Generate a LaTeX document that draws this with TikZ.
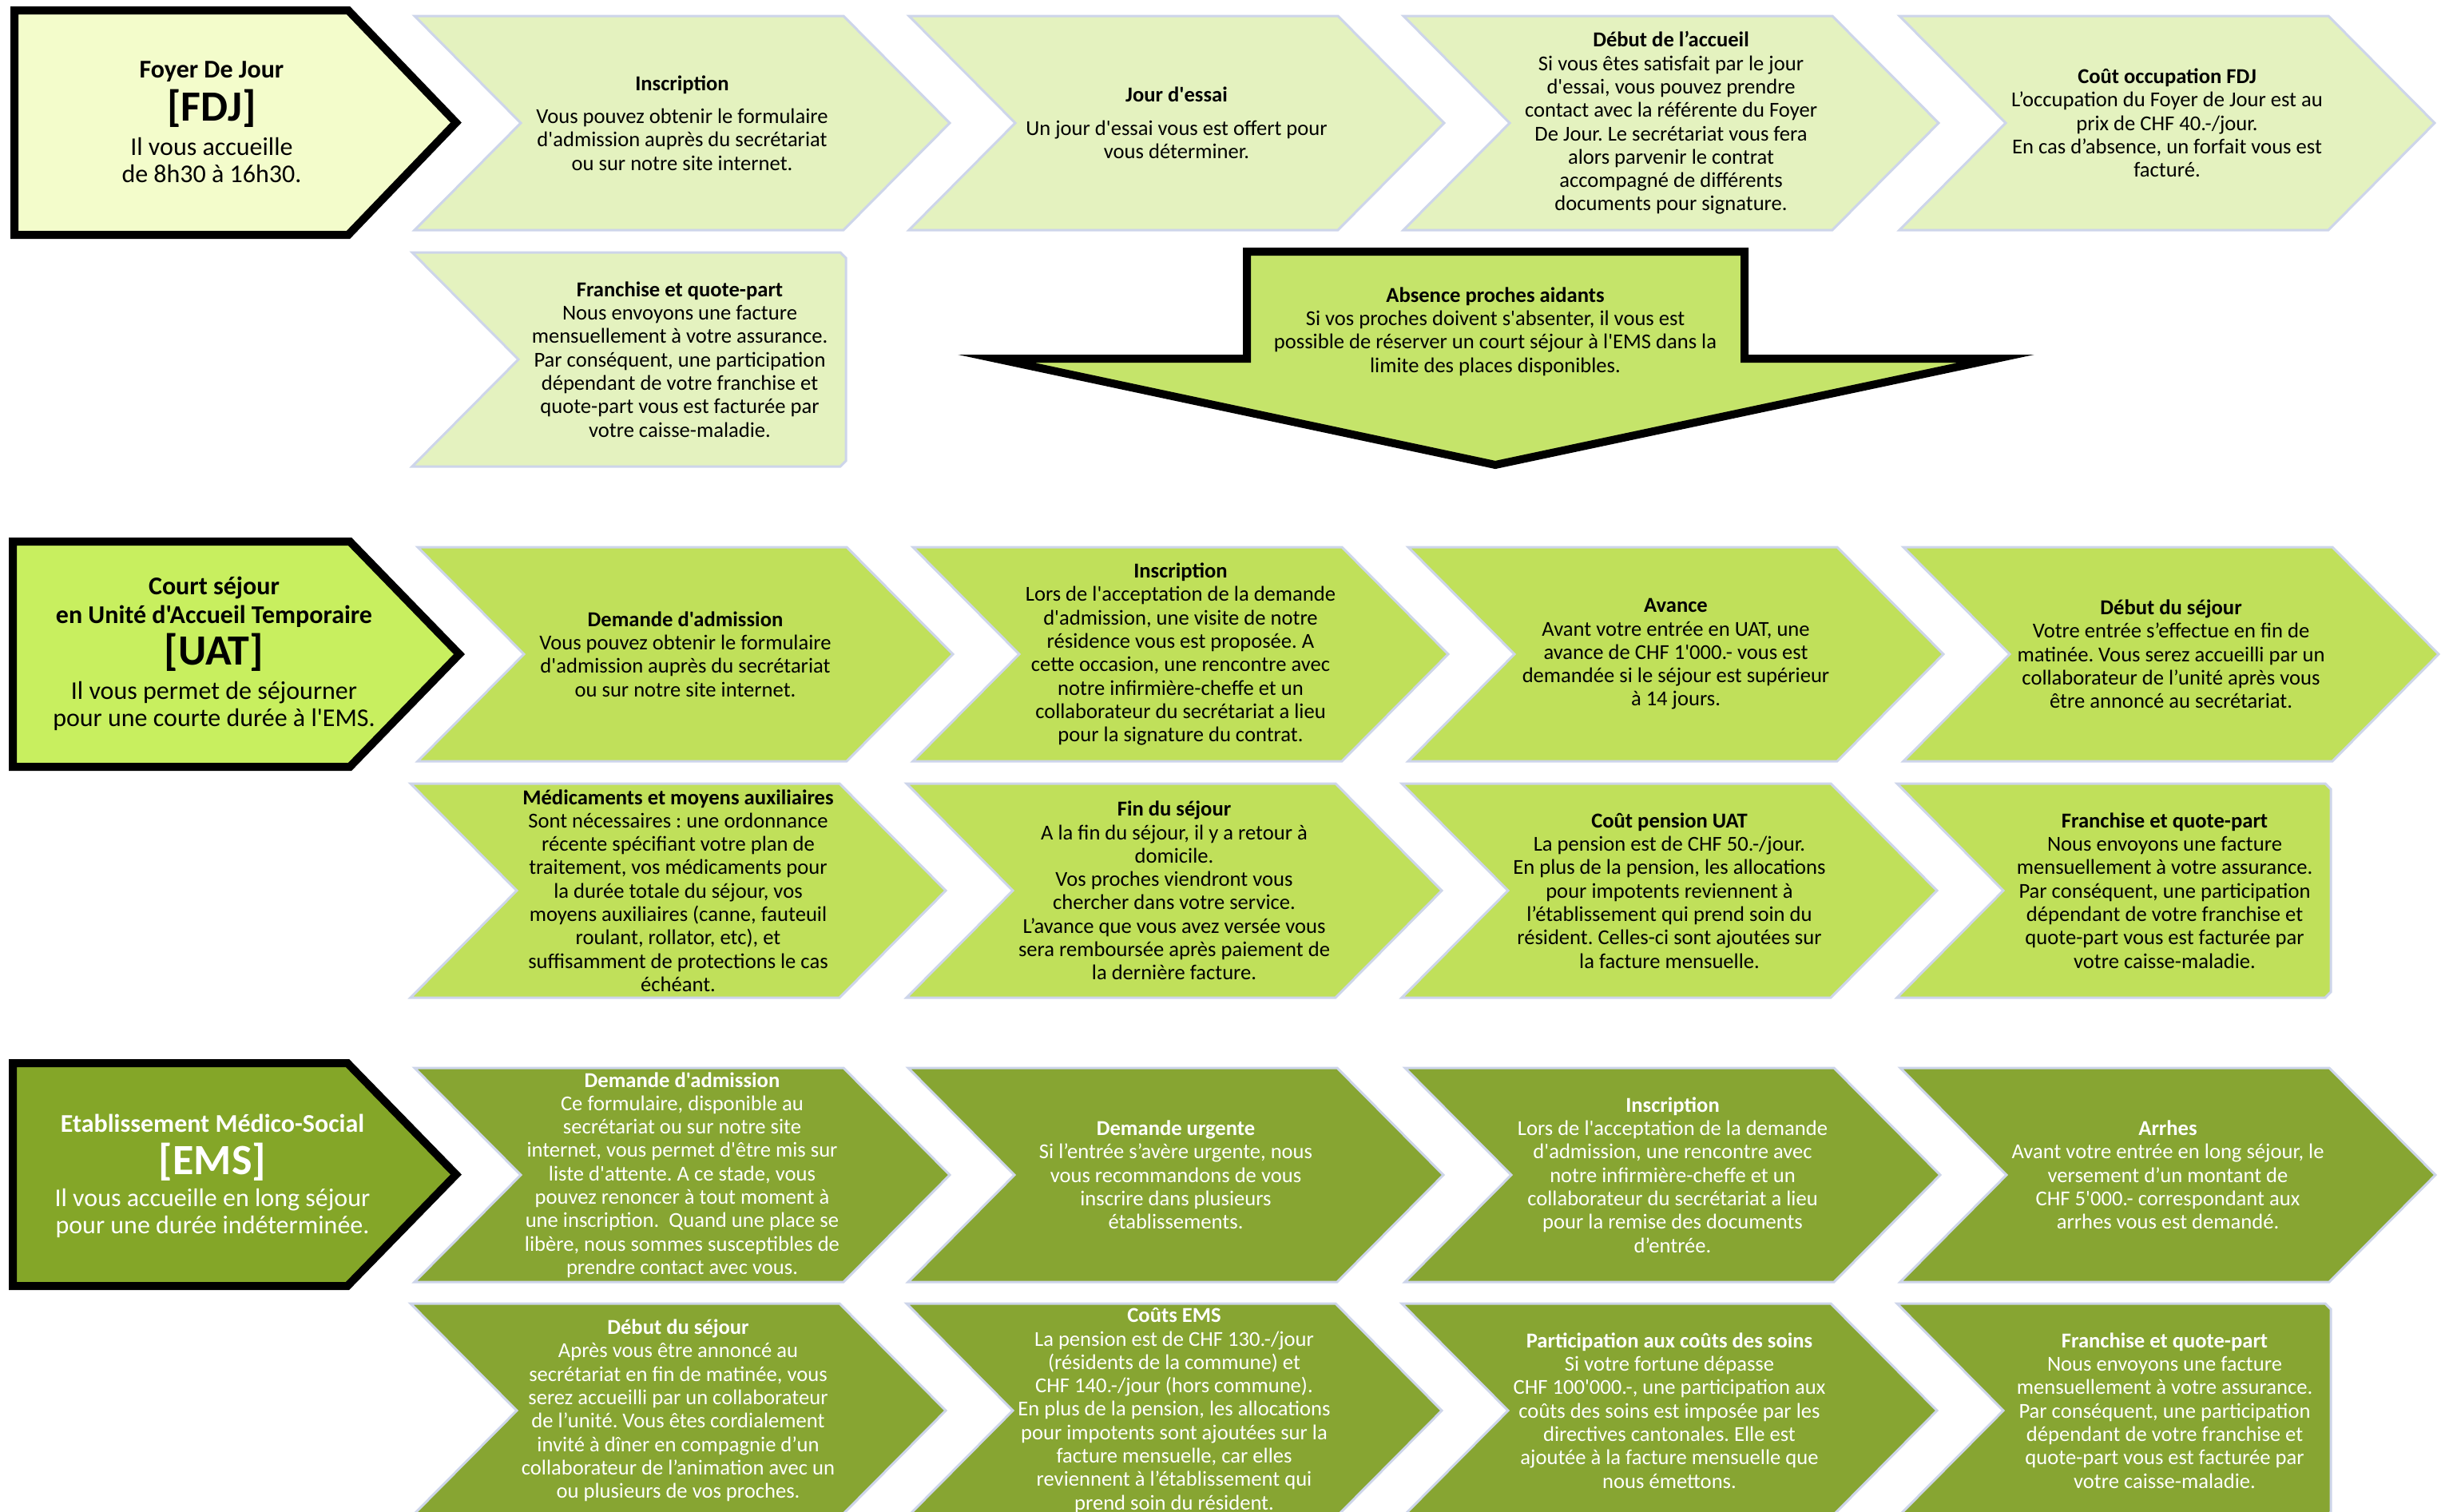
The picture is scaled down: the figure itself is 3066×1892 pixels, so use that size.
\documentclass[tikz,border=0pt]{standalone}
\usepackage{fontspec}
\setmainfont{Carlito}
\newfontfamily\carl{Carlito}
\frenchspacing
\definecolor{edgec}{HTML}{CDD5EA}
\definecolor{rowonec}{HTML}{E4F2BF}
\definecolor{fdjc}{HTML}{F3FCCB}
\definecolor{rowtwoc}{HTML}{C0E05A}
\definecolor{uatc}{HTML}{C8EF5F}
\definecolor{rowthreec}{HTML}{87A532}
\definecolor{emsc}{HTML}{84A628}
\definecolor{arrc}{HTML}{C5E46A}
\tikzset{
  chevbox/.style={draw=edgec, line width=1.5pt, line join=miter},
  hdrbox/.style={draw=black, line width=5pt, line join=miter, miter limit=25},
  txt/.style={font=\carl\frenchspacing\fontsize{13.3}{14.65}\selectfont, align=center, inner sep=0pt},
  wtxt/.style={txt, text=white},
  htitle/.style={font=\carl\bfseries\fontsize{16}{18}\selectfont, align=center, inner sep=0pt},
  habbr/.style={font=\carl\bfseries\fontsize{27}{30}\selectfont, inner sep=0pt},
  hbody/.style={font=\carl\fontsize{16}{17}\selectfont, align=center, inner sep=0pt},
}
% #1 x0, #2 yc, #3 fill, #4 name of text anchor
\newcommand\chevshape[4]{%
  \path[chevbox,fill=#3] (#1,#2-134) -- (#1+537,#2-134) -- (#1+670,#2) -- (#1+537,#2+134)
     -- (#1,#2+134) -- (#1+133,#2) -- cycle;
  \coordinate (#4) at (#1+335,#2);}
\newcommand\flatshape[4]{%
  \path[chevbox,fill=#3] (#1,#2-134) -- (#1+536,#2-134) -- (#1+543,#2-127) -- (#1+543,#2+127)
     -- (#1+536,#2+134) -- (#1,#2+134) -- (#1+133,#2) -- cycle;
  \coordinate (#4) at (#1+335,#2);}
% #1 left x, #2 top y, #3 bottom y, #4 flat end x, #5 vertex x, #6 fill
\newcommand\hdrshape[6]{%
  \path[hdrbox,fill=#6] (#1,#2) -- (#4,#2) -- (#5,{(#2+#3)/2}) -- (#4,#3) -- (#1,#3) -- cycle;}
\begin{document}
\begin{tikzpicture}[x=0.5pt,y=-0.5pt]
\useasboundingbox (0,0) rectangle (3066,1892);
\clip (0,0) rectangle (3066,1892);
\fill[white] (0,0) rectangle (3066,1892);

% ---------------- Row 1 : FDJ ----------------
\hdrshape{18}{13}{294}{436}{571}{fdjc}
\node[htitle] (fdjt) at (265,90) {Foyer De Jour};
\node[habbr] (fdja) at (265,136) {[FDJ]};
\node[hbody] (fdjb) at (265,201) {Il vous accueille\\de 8h30 à 16h30.};

\chevshape{519}{154}{rowonec}{ca1}
\chevshape{1138}{154}{rowonec}{ca2}
\chevshape{1757}{154}{rowonec}{ca3}
\chevshape{2378}{154}{rowonec}{ca4}
\flatshape{516}{450}{rowonec}{cb1}

\node[txt] (ta1) at (ca1) {\textbf{Inscription}\\[6pt]Vous pouvez obtenir le formulaire\\d'admission auprès du secrétariat\\ou sur notre site internet.};
\node[txt] (ta2) at (ca2) {\textbf{Jour d'essai}\\[6pt]Un jour d'essai vous est offert pour\\vous déterminer.};
\node[txt] (ta3) at (ca3) {\textbf{Début de l’accueil}\\Si vous êtes satisfait par le jour\\d'essai, vous pouvez prendre\\contact avec la référente du Foyer\\De Jour. Le secrétariat vous fera\\alors parvenir le contrat\\accompagné de différents\\documents pour signature.};
\node[txt] (ta4) at (ca4) {\textbf{Coût occupation FDJ}\\L’occupation du Foyer de Jour est au\\prix de CHF 40.-/jour.\\En cas d’absence, un forfait vous est\\facturé.};
\node[txt] (tb1) at (cb1) {\textbf{Franchise et quote-part}\\Nous envoyons une facture\\mensuellement à votre assurance.\\Par conséquent, une participation\\dépendant de votre franchise et\\quote-part vous est facturée par\\votre caisse-maladie.};

% Absence arrow
\path[hdrbox,fill=arrc] (1561,315) -- (2184,315) -- (2184,449) -- (2499,449) -- (1872,582)
   -- (1247,449) -- (1561,449) -- cycle;
\node[txt] (abs) at (1872,415) {\textbf{Absence proches aidants}\\Si vos proches doivent s'absenter, il vous est\\possible de réserver un court séjour à l'EMS dans la\\limite des places disponibles.};

% ---------------- Row 2 : UAT ----------------
\hdrshape{16}{678}{960}{438}{575}{uatc}
\node[htitle] (uatt) at (268,754) {Court séjour\\en Unité d'Accueil Temporaire};
\node[habbr] (uata) at (268,817) {[UAT]};
\node[hbody] (uatb) at (268,884) {Il vous permet de séjourner\\pour une courte durée à l'EMS.};

\chevshape{523}{819}{rowtwoc}{cc1}
\chevshape{1143}{819}{rowtwoc}{cc2}
\chevshape{1763}{819}{rowtwoc}{cc3}
\chevshape{2383}{819}{rowtwoc}{cc4}
\chevshape{514}{1115}{rowtwoc}{cd1}
\chevshape{1135}{1115}{rowtwoc}{cd2}
\chevshape{1755}{1115}{rowtwoc}{cd3}
\flatshape{2375}{1115}{rowtwoc}{cd4}

\node[txt] (tc1) at (cc1) {\textbf{Demande d'admission}\\Vous pouvez obtenir le formulaire\\d'admission auprès du secrétariat\\ou sur notre site internet.};
\node[txt] (tc2) at (cc2) {\textbf{Inscription}\\Lors de l'acceptation de la demande\\d'admission, une visite de notre\\résidence vous est proposée. A\\cette occasion, une rencontre avec\\notre infirmière-cheffe et un\\collaborateur du secrétariat a lieu\\pour la signature du contrat.};
\node[txt] (tc3) at (cc3) {\textbf{Avance}\\Avant votre entrée en UAT, une\\avance de CHF 1'000.- vous est\\demandée si le séjour est supérieur\\à 14 jours.};
\node[txt] (tc4) at (cc4) {\textbf{Début du séjour}\\Votre entrée s’effectue en fin de\\matinée. Vous serez accueilli par un\\collaborateur de l’unité après vous\\être annoncé au secrétariat.};
\node[txt] (td1) at (cd1) {\textbf{Médicaments et moyens auxiliaires}\\Sont nécessaires : une ordonnance\\récente spécifiant votre plan de\\traitement, vos médicaments pour\\la durée totale du séjour, vos\\moyens auxiliaires (canne, fauteuil\\roulant, rollator, etc), et\\suffisamment de protections le cas\\échéant.};
\node[txt] (td2) at (cd2) {\textbf{Fin du séjour}\\A la fin du séjour, il y a retour à\\domicile.\\Vos proches viendront vous\\chercher dans votre service.\\L’avance que vous avez versée vous\\sera remboursée après paiement de\\la dernière facture.};
\node[txt] (td3) at (cd3) {\textbf{Coût pension UAT}\\La pension est de CHF 50.-/jour.\\En plus de la pension, les allocations\\pour impotents reviennent à\\l’établissement qui prend soin du\\résident. Celles-ci sont ajoutées sur\\la facture mensuelle.};
\node[txt] (td4) at (cd4) {\textbf{Franchise et quote-part}\\Nous envoyons une facture\\mensuellement à votre assurance.\\Par conséquent, une participation\\dépendant de votre franchise et\\quote-part vous est facturée par\\votre caisse-maladie.};

% ---------------- Row 3 : EMS ----------------
\hdrshape{16}{1331}{1610}{435}{571}{emsc}
\node[htitle,text=white] (emst) at (266,1406) {Etablissement Médico-Social};
\node[habbr,text=white] (emsa) at (266,1455) {[EMS]};
\node[hbody,text=white] (emsb) at (266,1519) {Il vous accueille en long séjour\\pour une durée indéterminée.};

\chevshape{519}{1471}{rowthreec}{ce1}
\chevshape{1137}{1471}{rowthreec}{ce2}
\chevshape{1759}{1471}{rowthreec}{ce3}
\chevshape{2379}{1471}{rowthreec}{ce4}
\chevshape{514}{1766}{rowthreec}{cf1}
\chevshape{1135}{1766}{rowthreec}{cf2}
\chevshape{1755}{1766}{rowthreec}{cf3}
\flatshape{2375}{1766}{rowthreec}{cf4}

\node[wtxt] (te1) at (ce1) {\textbf{Demande d'admission}\\Ce formulaire, disponible au\\secrétariat ou sur notre site\\internet, vous permet d'être mis sur\\liste d'attente. A ce stade, vous\\pouvez renoncer à tout moment à\\une inscription.\ \ Quand une place se\\libère, nous sommes susceptibles de\\prendre contact avec vous.};
\node[wtxt] (te2) at (ce2) {\textbf{Demande urgente}\\Si l’entrée s’avère urgente, nous\\vous recommandons de vous\\inscrire dans plusieurs\\établissements.};
\node[wtxt] (te3) at (ce3) {\textbf{Inscription}\\Lors de l'acceptation de la demande\\d'admission, une rencontre avec\\notre infirmière-cheffe et un\\collaborateur du secrétariat a lieu\\pour la remise des documents\\d’entrée.};
\node[wtxt] (te4) at (ce4) {\textbf{Arrhes}\\Avant votre entrée en long séjour, le\\versement d’un montant de\\CHF 5'000.- correspondant aux\\arrhes vous est demandé.};
\node[wtxt] (tf1) at (cf1) {\textbf{Début du séjour}\\Après vous être annoncé au\\secrétariat en fin de matinée, vous\\serez accueilli par un collaborateur\\de l’unité. Vous êtes cordialement\\invité à dîner en compagnie d’un\\collaborateur de l’animation avec un\\ou plusieurs de vos proches.};
\node[wtxt] (tf2) at (cf2) {\textbf{Coûts EMS}\\La pension est de CHF 130.-/jour\\(résidents de la commune) et\\CHF 140.-/jour (hors commune).\\En plus de la pension, les allocations\\pour impotents sont ajoutées sur la\\facture mensuelle, car elles\\reviennent à l’établissement qui\\prend soin du résident.};
\node[wtxt] (tf3) at (cf3) {\textbf{Participation aux coûts des soins}\\Si votre fortune dépasse\\CHF 100'000.-, une participation aux\\coûts des soins est imposée par les\\directives cantonales. Elle est\\ajoutée à la facture mensuelle que\\nous émettons.};
\node[wtxt] (tf4) at (cf4) {\textbf{Franchise et quote-part}\\Nous envoyons une facture\\mensuellement à votre assurance.\\Par conséquent, une participation\\dépendant de votre franchise et\\quote-part vous est facturée par\\votre caisse-maladie.};
\end{tikzpicture}
\end{document}
